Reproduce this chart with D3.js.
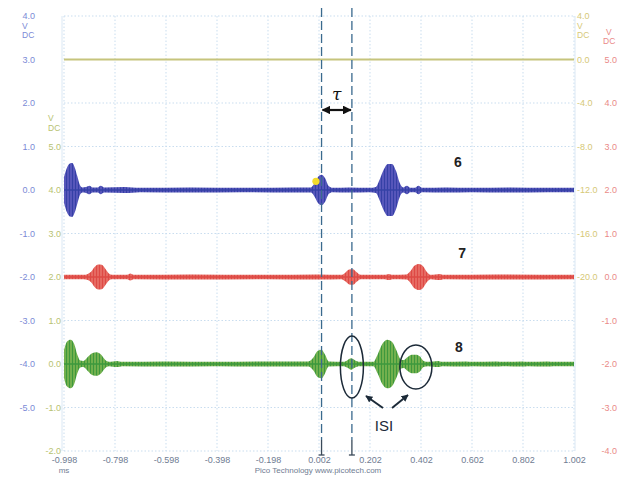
<!DOCTYPE html>
<html lang="en">
<head>
<meta charset="UTF-8">
<title>Pico scope traces</title>
<script src="https://cdn.jsdelivr.net/npm/d3@7"></script>
<style>
  body { margin: 0; background: #fff; }
  svg { display: block; font-family: "Liberation Sans", Arial, sans-serif; }
</style>
</head>
<body>
<script>
  const width = 621
  const height = 484

  // time axis, ms
  const timeTicks = [-0.998, -0.798, -0.598, -0.398, -0.198, 0.002, 0.202, 0.402, 0.602, 0.802, 1.002]
  // the four channel axes
  const blueTicks = [4, 3, 2, 1, 0, -1, -2, -3, -4, -5]
  const greenTicks = [5, 4, 3, 2, 1, 0, -1, -2]
  const yellowTicks = [4, 0, -4, -8, -12, -16, -20]
  const redTicks = [5, 4, 3, 2, 1, 0, -1, -2, -3, -4]

  // burst envelopes (time in ms, half amplitude in V)
  const trace6Time = [-0.998, -0.986, -0.975, -0.966, -0.956, -0.946, -0.936, -0.926, -0.912, -0.898, -0.886, -0.866, -0.854, -0.84, -0.76, -0.7, -0.5, -0.3, -0.1, -0.03, -0.016, -0.002, 0.012, 0.026, 0.04, 0.055, 0.12, 0.2, 0.225, 0.24, 0.256, 0.272, 0.288, 0.304, 0.318, 0.332, 0.347, 0.36, 0.378, 0.392, 0.406, 0.5, 0.6, 0.75, 0.9, 1.002]
  const trace6Amp = [0.3, 0.52, 0.61, 0.62, 0.52, 0.32, 0.12, 0.06, 0.07, 0.1, 0.06, 0.06, 0.1, 0.06, 0.07, 0.05, 0.06, 0.05, 0.06, 0.06, 0.15, 0.3, 0.35, 0.27, 0.09, 0.05, 0.06, 0.05, 0.07, 0.24, 0.47, 0.6, 0.6, 0.44, 0.17, 0.06, 0.1, 0.05, 0.05, 0.1, 0.05, 0.06, 0.05, 0.06, 0.05, 0.05]

  const trace7Time = [-0.998, -0.92, -0.905, -0.892, -0.878, -0.864, -0.85, -0.836, -0.822, -0.81, -0.75, -0.738, -0.725, -0.5, -0.2, 0.0, 0.09, 0.105, 0.12, 0.135, 0.15, 0.165, 0.26, 0.276, 0.29, 0.345, 0.36, 0.376, 0.394, 0.41, 0.426, 0.44, 0.476, 0.49, 0.7, 1.002]
  const trace7Amp = [0.05, 0.05, 0.07, 0.12, 0.23, 0.29, 0.28, 0.19, 0.08, 0.05, 0.05, 0.08, 0.05, 0.06, 0.05, 0.06, 0.05, 0.1, 0.17, 0.18, 0.11, 0.05, 0.05, 0.07, 0.05, 0.06, 0.13, 0.26, 0.3, 0.25, 0.11, 0.05, 0.07, 0.05, 0.06, 0.05]

  const trace8Time = [-0.998, -0.986, -0.972, -0.958, -0.946, -0.934, -0.922, -0.905, -0.888, -0.87, -0.852, -0.836, -0.822, -0.79, -0.77, -0.6, -0.4, -0.2, -0.04, -0.02, -0.004, 0.012, 0.026, 0.04, 0.1, 0.112, 0.128, 0.144, 0.16, 0.215, 0.232, 0.25, 0.27, 0.288, 0.306, 0.322, 0.334, 0.35, 0.366, 0.382, 0.398, 0.412, 0.43, 0.47, 0.484, 0.58, 0.6, 0.7, 0.72, 0.8, 0.82, 0.9, 0.92, 1.002]
  const trace8Amp = [0.32, 0.52, 0.56, 0.46, 0.22, 0.08, 0.07, 0.16, 0.25, 0.27, 0.21, 0.09, 0.05, 0.07, 0.05, 0.06, 0.05, 0.06, 0.06, 0.15, 0.3, 0.33, 0.21, 0.06, 0.05, 0.08, 0.13, 0.08, 0.05, 0.05, 0.22, 0.46, 0.56, 0.51, 0.31, 0.11, 0.09, 0.16, 0.21, 0.21, 0.17, 0.07, 0.05, 0.07, 0.05, 0.06, 0.05, 0.06, 0.05, 0.06, 0.05, 0.06, 0.05, 0.05]

  // flat yellow channel
  const trace9Time = [-0.998, 1.002]
  const trace9Val = [0, 0]

  const cursorTimes = [0.012, 0.131]

  const svg = d3.select('body').append('svg')
    .attr('width', width)
    .attr('height', height)

  const x = d3.scaleLinear().domain([-0.998, 1.002]).range([64, 574])
  const yBlue = d3.scaleLinear().domain([-6, 4]).range([451, 16])
  const yGreen = d3.scaleLinear().domain([-2, 5]).range([451, 146.5])
  const yYellow = d3.scaleLinear().domain([-20, 4]).range([277, 16])
  const yRed = d3.scaleLinear().domain([-4, 5]).range([451, 59.5])

  const fmt1 = d => d.toFixed(1)

  // grid
  const grid = svg.append('g')
  grid.selectAll('.vg').data(timeTicks).enter().append('line')
    .attr('x1', d => x(d)).attr('x2', d => x(d))
    .attr('y1', yBlue(4)).attr('y2', yBlue(-6))
    .attr('stroke', '#c9ddef').attr('stroke-dasharray', '1.5,2')
  grid.selectAll('.hg').data(blueTicks.concat([-6])).enter().append('line')
    .attr('x1', x(-0.998)).attr('x2', x(1.002))
    .attr('y1', d => yBlue(d)).attr('y2', d => yBlue(d))
    .attr('stroke', '#c9ddef').attr('stroke-dasharray', '1.5,2')
  // frame sides
  grid.selectAll('.fr').data([-0.998, 1.002]).enter().append('line')
    .attr('x1', d => x(d) + (d < 0 ? -2 : 1)).attr('x2', d => x(d) + (d < 0 ? -2 : 1))
    .attr('y1', yBlue(4)).attr('y2', yBlue(-6))
    .attr('stroke', '#dbe8f4')

  const defs = svg.append('defs')
  // the scan is soft, so traces get a light blur
  defs.append('filter').attr('id', 'soft')
    .attr('x', '-5%').attr('y', '-20%').attr('width', '110%').attr('height', '140%')
    .append('feGaussianBlur').attr('stdDeviation', 0.55)

  // yellow channel
  const flat = trace9Time.map((t, i) => ({ t: t, v: trace9Val[i] }))
  svg.append('path')
    .attr('d', d3.line().x(d => x(d.t)).y(d => yYellow(d.v))(flat))
    .attr('fill', 'none').attr('stroke', '#c6c47c').attr('stroke-width', 2)

  // stripe patterns give the dense oscillation look
  const channels = [
    { id: 'c6', time: trace6Time, amp: trace6Amp, y: yBlue, base: '#3440a6', stripe: '#8c7ad8' },
    { id: 'c7', time: trace7Time, amp: trace7Amp, y: yRed, base: '#de4a44', stripe: '#f39a8e' },
    { id: 'c8', time: trace8Time, amp: trace8Amp, y: yGreen, base: '#3c983c', stripe: '#c4d468' }
  ]
  channels.forEach(c => {
    const p = defs.append('pattern')
      .attr('id', 'stripe-' + c.id)
      .attr('patternUnits', 'userSpaceOnUse')
      .attr('width', 3).attr('height', 8)
    p.append('rect').attr('width', 3).attr('height', 8).attr('fill', c.base)
    p.append('rect').attr('x', 1.6).attr('width', 0.8).attr('height', 8).attr('fill', c.stripe)
  })

  const traces = svg.append('g').attr('filter', 'url(#soft)')
  channels.forEach(c => {
    const env = c.time.map((t, i) => ({ t: t, a: c.amp[i] }))
    const area = d3.area()
      .curve(d3.curveMonotoneX)
      .x(d => x(d.t))
      .y0(d => c.y(-d.a))
      .y1(d => c.y(d.a))
    traces.append('path')
      .attr('d', area(env))
      .attr('fill', 'url(#stripe-' + c.id + ')')
    traces.append('path')
      .attr('d', d3.line().x(d => x(d.t)).y(c.y(0))(env))
      .attr('fill', 'none').attr('stroke', c.base).attr('stroke-width', 1.6)
  })

  // trigger marker
  svg.append('circle')
    .attr('cx', x(-0.01)).attr('cy', yBlue(0.2)).attr('r', 3.6)
    .attr('fill', '#f3dc2c')

  // cursors
  const cur = svg.append('g')
  cur.selectAll('.cl').data(cursorTimes).enter().append('line')
    .attr('x1', d => x(d)).attr('x2', d => x(d))
    .attr('y1', 8).attr('y2', 440)
    .attr('stroke', '#3a6a8e').attr('stroke-width', 1.3)
    .attr('stroke-dasharray', '9,4')
  cur.selectAll('.cb').data(cursorTimes).enter().append('line')
    .attr('x1', d => x(d)).attr('x2', d => x(d))
    .attr('y1', 440).attr('y2', 455)
    .attr('stroke', '#3a4a5a').attr('stroke-width', 1.3)
  cur.selectAll('.cc').data(cursorTimes).enter().append('line')
    .attr('x1', d => x(d) - 3).attr('x2', d => x(d) + 3)
    .attr('y1', 455).attr('y2', 455)
    .attr('stroke', '#3a4a5a').attr('stroke-width', 1.3)

  defs.append('marker')
    .attr('id', 'head').attr('viewBox', '0 0 10 10')
    .attr('refX', 9).attr('refY', 5)
    .attr('markerWidth', 4).attr('markerHeight', 4)
    .attr('orient', 'auto-start-reverse')
    .append('path').attr('d', 'M0,0 L10,5 L0,10 z').attr('fill', '#111')

  // tau span
  svg.append('line')
    .attr('x1', x(cursorTimes[0]) + 1).attr('x2', x(cursorTimes[1]) - 1)
    .attr('y1', 110).attr('y2', 110)
    .attr('stroke', '#111').attr('stroke-width', 2.2)
    .attr('marker-start', 'url(#head)').attr('marker-end', 'url(#head)')
  svg.append('text')
    .attr('x', (x(cursorTimes[0]) + x(cursorTimes[1])) / 2).attr('y', 100)
    .attr('text-anchor', 'middle')
    .attr('font-family', '"DejaVu Serif", serif').attr('font-style', 'italic')
    .attr('font-size', 17).attr('fill', '#111')
    .text('τ')

  // channel numbers
  const numbers = [
    { label: '6', t: 0.547, y: yBlue(0.52) },
    { label: '7', t: 0.563, y: yRed(0.44) },
    { label: '8', t: 0.551, y: yGreen(0.27) }
  ]
  svg.selectAll('.num').data(numbers).enter().append('text')
    .attr('x', d => x(d.t)).attr('y', d => d.y)
    .attr('text-anchor', 'middle')
    .attr('font-size', 14).attr('font-weight', 'bold').attr('fill', '#222')
    .text(d => d.label)

  // ISI marks
  const ell = [
    { t: 0.131, v: -0.07, rx: 11.5, ry: 31 },
    { t: 0.382, v: -0.07, rx: 16, ry: 22 }
  ]
  svg.selectAll('.ell').data(ell).enter().append('ellipse')
    .attr('cx', d => x(d.t)).attr('cy', d => yGreen(d.v))
    .attr('rx', d => d.rx).attr('ry', d => d.ry)
    .attr('fill', 'none').attr('stroke', '#1c2a38').attr('stroke-width', 1.5)

  defs.append('marker')
    .attr('id', 'head2').attr('viewBox', '0 0 10 10')
    .attr('refX', 9).attr('refY', 5)
    .attr('markerWidth', 3.5).attr('markerHeight', 3.5)
    .attr('orient', 'auto')
    .append('path').attr('d', 'M0,0 L10,5 L0,10 z').attr('fill', '#1c2a38')
  const arrows = [[383, 408, 366, 396], [392, 408, 408, 395]]
  svg.selectAll('.arr').data(arrows).enter().append('line')
    .attr('x1', d => d[0]).attr('y1', d => d[1])
    .attr('x2', d => d[2]).attr('y2', d => d[3])
    .attr('stroke', '#1c2a38').attr('stroke-width', 2)
    .attr('marker-end', 'url(#head2)')
  svg.append('text')
    .attr('x', 384).attr('y', 431)
    .attr('text-anchor', 'middle')
    .attr('font-size', 15).attr('fill', '#1c2a38')
    .text('ISI')

  // axes
  function styleAxis(g, color) {
    g.select('.domain').remove()
    g.attr('font-size', 9).attr('font-family', '"Liberation Sans", Arial, sans-serif')
    g.selectAll('text').attr('fill', color)
  }
  svg.append('g').attr('transform', 'translate(35,0)')
    .call(d3.axisLeft(yBlue).tickValues(blueTicks).tickSize(0).tickPadding(0).tickFormat(fmt1))
    .call(g => styleAxis(g, '#7b8ad6'))
  svg.append('g').attr('transform', 'translate(61,0)')
    .call(d3.axisLeft(yGreen).tickValues(greenTicks).tickSize(0).tickPadding(0).tickFormat(fmt1))
    .call(g => styleAxis(g, '#b7c272'))
  svg.append('g').attr('transform', 'translate(577,0)')
    .call(d3.axisRight(yYellow).tickValues(yellowTicks).tickSize(0).tickPadding(0).tickFormat(fmt1))
    .call(g => styleAxis(g, '#d6c877'))
  svg.append('g').attr('transform', 'translate(617,0)')
    .call(d3.axisLeft(yRed).tickValues(redTicks).tickSize(0).tickPadding(0).tickFormat(fmt1))
    .call(g => styleAxis(g, '#ea8a88'))
  svg.append('g').attr('transform', 'translate(0,457)')
    .call(d3.axisBottom(x).tickValues(timeTicks).tickSize(0).tickPadding(0).tickFormat(d => d.toFixed(3)))
    .call(g => styleAxis(g, '#6f7c92'))

  // units
  const units = [
    { x: 22, y: 29, t: 'V', c: '#7b8ad6' }, { x: 22, y: 38, t: 'DC', c: '#7b8ad6' },
    { x: 48, y: 121, t: 'V', c: '#b7c272' }, { x: 48, y: 131, t: 'DC', c: '#b7c272' },
    { x: 577, y: 29, t: 'V', c: '#d6c877' }, { x: 577, y: 38, t: 'DC', c: '#d6c877' },
    { x: 606, y: 35, t: 'V', c: '#ea8a88' }, { x: 603, y: 44, t: 'DC', c: '#ea8a88' }
  ]
  svg.selectAll('.unit').data(units).enter().append('text')
    .attr('x', d => d.x).attr('y', d => d.y)
    .attr('font-size', 8.5).attr('fill', d => d.c)
    .text(d => d.t)

  svg.append('text')
    .attr('x', x(-0.998)).attr('y', 473)
    .attr('text-anchor', 'middle').attr('font-size', 8).attr('fill', '#6f7c92')
    .text('ms')
  svg.append('text')
    .attr('x', 318).attr('y', 473)
    .attr('text-anchor', 'middle').attr('font-size', 8).attr('fill', '#6f7c92')
    .text('Pico Technology  www.picotech.com')
</script>
</body>
</html>
